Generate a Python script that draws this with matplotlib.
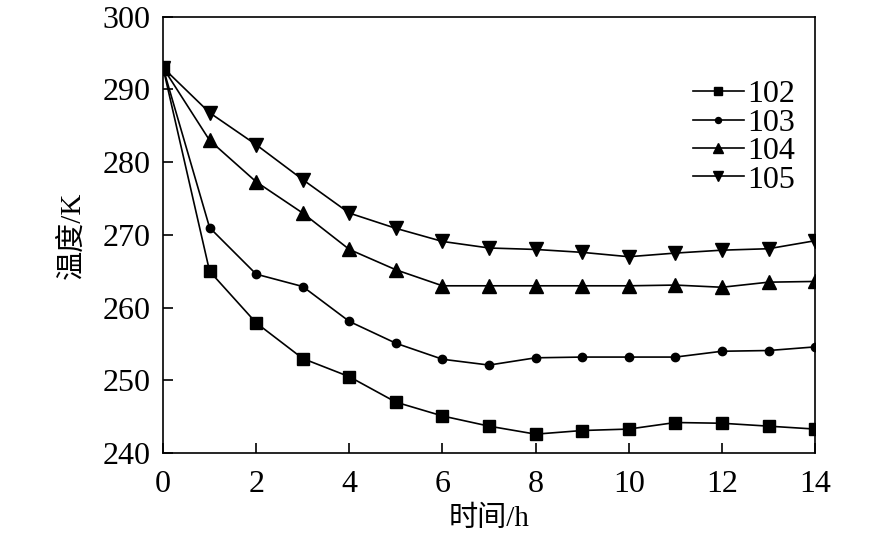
import matplotlib
matplotlib.use("Agg")
import matplotlib.pyplot as plt

hours = list(range(15))
t102 = [293, 265, 257.9, 253, 250.5, 247, 245.1, 243.7, 242.6, 243.1, 243.3, 244.2, 244.1, 243.7, 243.3]
t103 = [293, 271, 264.6, 262.9, 258.1, 255.1, 252.9, 252.1, 253.1, 253.2, 253.2, 253.2, 254.0, 254.1, 254.6]
t104 = [293, 283, 277.3, 273, 268, 265.2, 263, 263, 263, 263, 263, 263.1, 262.8, 263.5, 263.6]
t105 = [293, 286.8, 282.4, 277.6, 273, 270.9, 269.1, 268.2, 268.0, 267.6, 267.0, 267.5, 267.9, 268.1, 269.2]
labels = ['102', '103', '104', '105']

plt.rcParams['font.family'] = ['Liberation Serif', 'Noto Sans CJK SC']
plt.rcParams['font.size'] = 23

fig = plt.figure(figsize=(8.86, 5.4), dpi=100)
ax = fig.add_axes([0.184, 0.161, 0.736, 0.808])

styles = [('s', 8.5), ('o', 6), ('^', 9.5), ('v', 9.5)]
for ys, lab, (m, ms) in zip([t102, t103, t104, t105], labels, styles):
    ax.plot(hours, ys, color='black', lw=1.2, marker=m, markersize=ms, label=lab)

ax.set_xlim(0, 14)
ax.set_ylim(240, 300)
ax.set_xticks(range(0, 15, 2))
ax.set_yticks(range(240, 301, 10))
ax.tick_params(direction='in', length=7.5, width=1.2, top=False, right=False)
ax.tick_params(axis='x', pad=12)
ax.tick_params(axis='y', pad=9)
for s in ax.spines.values():
    s.set_linewidth(1.2)

ax.set_xlabel('时间/h', fontsize=21, labelpad=5)
ax.set_ylabel('温度/K', fontsize=21, labelpad=12)

ax.legend(loc='upper right', bbox_to_anchor=(0.969, 0.855), frameon=False, handlelength=1.6,
          handletextpad=0.1, labelspacing=-0.03, borderaxespad=0, borderpad=0, markerscale=0.72)

fig.savefig('out.png', dpi=100)
